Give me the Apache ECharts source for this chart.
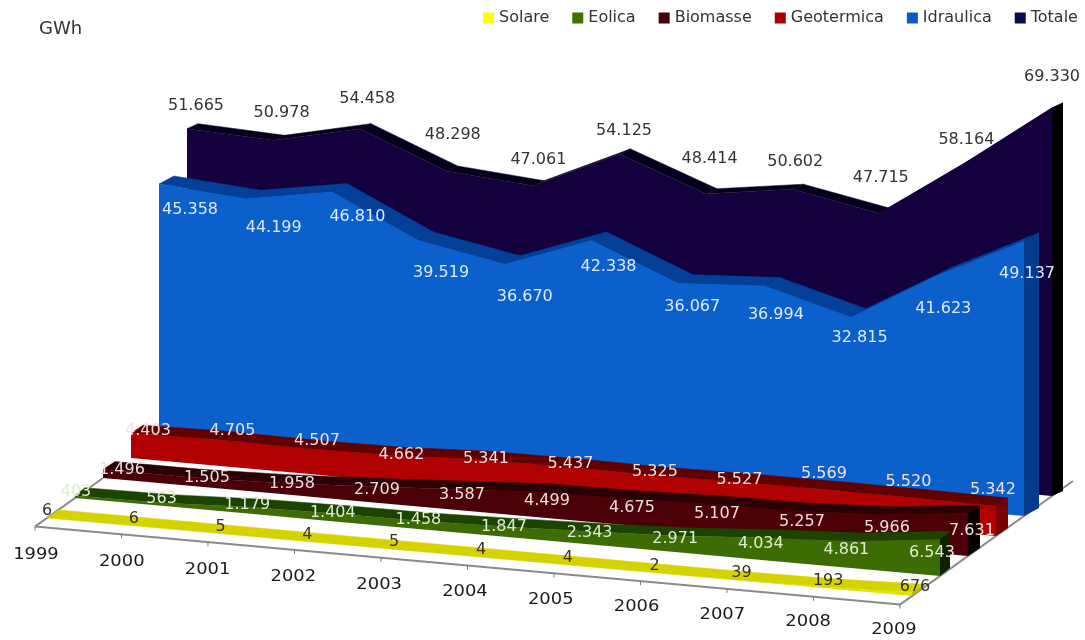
<!DOCTYPE html>
<html><head><meta charset="utf-8">
<style>html,body{margin:0;padding:0;background:#fff}#c{width:1085px;height:640px}</style>
<script src="https://cdn.jsdelivr.net/npm/echarts@6/dist/echarts.min.js"></script>
</head><body><div id="c"></div>
<script>
const categories = ['1999','2000','2001','2002','2003','2004','2005','2006','2007','2008','2009'];
const solare     = [6,6,5,4,5,4,4,2,39,193,676];
const eolica     = [403,563,1179,1404,1458,1847,2343,2971,4034,4861,6543];
const biomasse   = [1496,1505,1958,2709,3587,4499,4675,5107,5257,5966,7631];
const geotermica = [4403,4705,4507,4662,5341,5437,5325,5527,5569,5520,5342];
const idraulica  = [45358,44199,46810,39519,36670,42338,36067,36994,32815,41623,49137];
const totale     = [51665,50978,54458,48298,47061,54125,48414,50602,47715,58164,69330];

// Oblique projection applied on top of the chart's own scales
const DEPTH_DX = 28, DEPTH_DY = -20, SHEAR = 7.8 / 86.5, GRID_LEFT = 47;
const project = (p, d) => [p[0] + DEPTH_DX * d, p[1] + DEPTH_DY * d + SHEAR * (p[0] - GRID_LEFT)];
const fmt = v => String(v).replace(/\B(?=(\d{3})+$)/g, '.');

const layers = [
  {name:'Solare',     values:solare,     legend:'#ffff00', front:'#e6e200', top:'#d6d200', side:'#b8b400', text:'#33331a',
   sdx:12, sdy:-8, lx:47,  ls:86.8, frac:.5, ly:-7,  nudge:[0,0,0,0,0,0,0,0,0,0,0]},
  {name:'Eolica',     values:eolica,     legend:'#3f7000', front:'#3d6b04', top:'#1c4400', side:'#0d2000', text:'#dfeccf',
   sdx:10, sdy:-8, lx:76,  ls:85.6, frac:.5, ly:-5,  nudge:[0,0,0,0,0,0,0,0,0,0,0]},
  {name:'Biomasse',   values:biomasse,   legend:'#430006', front:'#4a0006', top:'#2a0004', side:'#0a0000', text:'#eedddd',
   sdx:12, sdy:-8, lx:122, ls:85,   frac:.5, ly:-4,  nudge:[0,0,0,0,0,0,0,0,0,0,0]},
  {name:'Geotermica', values:geotermica, legend:'#a80000', front:'#b00000', top:'#620000', side:'#7a0000', text:'#f2dede',
   sdx:12, sdy:-8, lx:148, ls:84.5, frac:1,  ly:0,   nudge:[-2,-9,-8,0,0,-3,-3,-2,-15,-15,-16]},
  {name:'Idraulica',  values:idraulica,  legend:'#0a5ac4', front:'#0b60cc', top:'#043f98', side:'#053a8c', text:'#dde8fb',
   sdx:15, sdy:-8, lx:190, ls:83.7, frac:1,  ly:28,  nudge:[-2,2,-3,5,5,-1,-4,1,-7,6,5]},
  {name:'Totale',     values:totale,     legend:'#0a0a50', front:'#14003f', top:'#04001c', side:'#000000', text:'#333333',
   sdx:11, sdy:-5, lx:196, ls:85.6, frac:1,  ly:-29, nudge:[6,2,-1,-7,3,6,-6,2,-6,6,-2]}
];

const slab = (d, L) => (params, api) => {
  if (params.dataIndex !== 0) return null;
  const n = L.values.length;
  const tops = L.values.map((v, i) => project(api.coord([i, v]), d));
  const bases = L.values.map((v, i) => project(api.coord([i, 0]), d));
  const back = p => [p[0] + L.sdx, p[1] + L.sdy];
  const children = [];
  const a = tops[n - 1], b = bases[n - 1];
  children.push({type:'polygon', shape:{points:[a, back(a), back(b), b]}, style:{fill:L.side}});
  for (let i = 0; i < n - 1; i++) {
    children.push({type:'polygon',
      shape:{points:[tops[i], tops[i+1], back(tops[i+1]), back(tops[i])]},
      style:{fill:L.top, stroke:L.top, lineWidth:0.5}});
  }
  children.push({type:'polygon', shape:{points:tops.concat(bases.slice().reverse())}, style:{fill:L.front}});
  return {type:'group', children};
};

const labelSeries = (L, d) => ({
  type:'custom', name:L.name + ' etichette', coordinateSystem:'cartesian2d', z:20, silent:true, clip:false,
  data:L.values.map((v, i) => [i, v]),
  renderItem:(params, api) => {
    const i = api.value(0), v = api.value(1);
    const p = project(api.coord([i, v * L.frac]), d);
    return {type:'text', style:{
      x:L.lx + L.ls * i, y:p[1] + L.ly + L.nudge[i], text:fmt(v), fill:L.text,
      font:'16px "DejaVu Sans"', align:'center', verticalAlign:'middle'}};
  }
});

const FLOOR_FRONT = -0.43, FLOOR_BACK = 5.75, FLOOR_LEFT_END = 2;
const floorSeries = {
  type:'custom', name:'Piano', coordinateSystem:'cartesian2d', z:1, silent:true, clip:false,
  data:categories.map((c, i) => [i, 0]),
  renderItem:(params, api) => {
    const n = categories.length, i = api.value(0);
    const p = project(api.coord([i, 0]), FLOOR_FRONT);
    const children = [
      {type:'line', shape:{x1:p[0], y1:p[1], x2:p[0], y2:p[1] + 4}, style:{stroke:'#777', lineWidth:1}},
      {type:'text', x:p[0] + 1 - 0.7 * i, y:p[1] + 28 - 0.3 * i, scaleX:1.12, style:{x:0, y:0, text:categories[i], fill:'#1a1a1a',
        font:'16px "DejaVu Sans"', align:'center', verticalAlign:'middle'}}
    ];
    if (i === 0) {
      const f0 = project(api.coord([0, 0]), FLOOR_FRONT), f1 = project(api.coord([n-1, 0]), FLOOR_FRONT),
            b1 = project(api.coord([n-1, 0]), FLOOR_BACK), b0 = project(api.coord([0, 0]), FLOOR_LEFT_END);
      const edge = (s, e) => ({type:'line', shape:{x1:s[0], y1:s[1], x2:e[0], y2:e[1]},
        style:{stroke:'#8a8a8a', lineWidth:2}});
      children.unshift(edge(f0, f1), edge(f1, b1), edge(f0, b0));
    }
    return {type:'group', children};
  }
};

const chart = echarts.init(document.getElementById('c'), null, {renderer:'canvas'});
chart.setOption({
  animation:false,
  backgroundColor:'#fff',
  title:{text:'GWh', left:39, top:20, padding:0, textStyle:{fontSize:18, fontWeight:'normal', color:'#333', fontFamily:'DejaVu Sans'}},
  legend:{data:layers.map(L => L.name), left:483, top:10, padding:0, itemWidth:11, itemHeight:11, itemGap:23, icon:'rect',
    textStyle:{fontSize:16, color:'#333', fontFamily:'DejaVu Sans', padding:[0,0,0,0]}},
  grid:{left:GRID_LEFT, width:865, top:70, height:448},
  xAxis:{type:'category', data:categories, boundaryGap:false, show:false},
  yAxis:{type:'value', min:0, max:80000, show:false},
  tooltip:{show:false},
  series:[floorSeries].concat(
    layers.map((L, d) => ({
      type:'custom', name:L.name, coordinateSystem:'cartesian2d', z:10 - d, silent:true, clip:false,
      itemStyle:{color:L.legend},
      data:L.values.map((v, i) => [i, v]),
      renderItem:slab(d, L)
    })),
    layers.map(labelSeries))
});
</script></body></html>
